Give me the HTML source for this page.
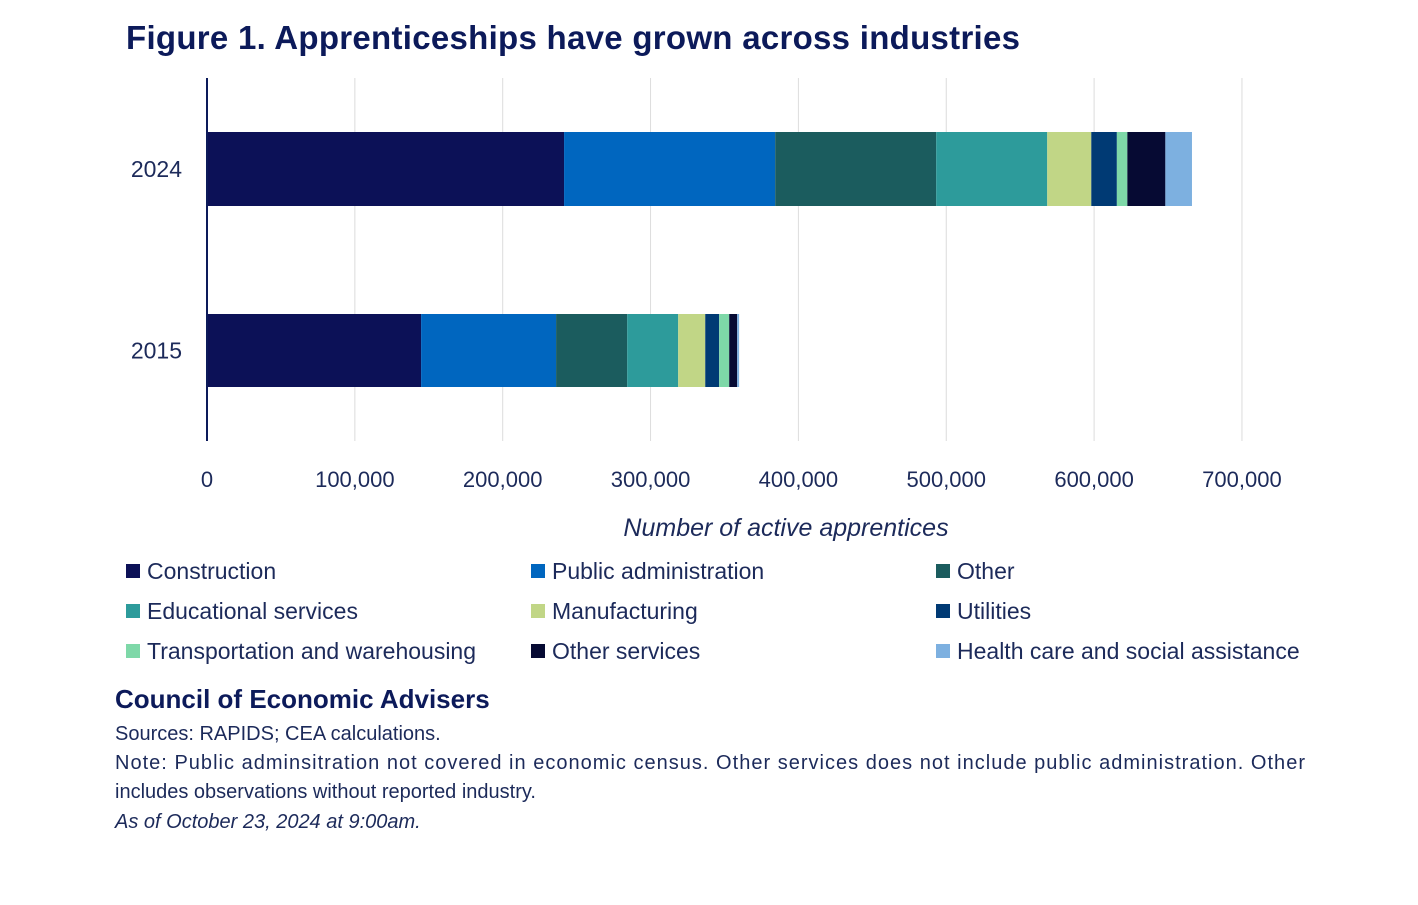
<!DOCTYPE html>
<html><head><meta charset="utf-8">
<style>
body{margin:0;background:#fff;width:1418px;height:900px;overflow:hidden;font-family:"Liberation Sans",sans-serif;}
svg text{font-family:"Liberation Sans",sans-serif;}
</style></head>
<body>
<svg id="chart" width="1418" height="900">
<text x="126" y="49" font-size="33" font-weight="bold" fill="#0c1a5a" textLength="894">Figure 1. Apprenticeships have grown across industries</text>
<g id="grid"></g>
<g id="bars"></g>
<g id="axes"></g>
<text x="786" y="536" font-size="25" font-style="italic" fill="#1c2a5a" text-anchor="middle">Number of active apprentices</text>
<g id="legend"></g>
<text x="115" y="708" font-size="26" font-weight="bold" fill="#0c1a5a">Council of Economic Advisers</text>
<text x="115" y="740" font-size="20" fill="#1c2a5a">Sources: RAPIDS; CEA calculations.</text>
<text x="115" y="769" font-size="20" fill="#1c2a5a" textLength="1190">Note: Public adminsitration not covered in economic census. Other services does not include public administration. Other</text>
<text x="115" y="798" font-size="20" fill="#1c2a5a">includes observations without reported industry.</text>
<text x="115" y="828" font-size="20" font-style="italic" fill="#1c2a5a">As of October 23, 2024 at 9:00am.</text>
</svg>
<script>
const years = ["2024","2015"];
const industries = ["Construction","Public administration","Other","Educational services","Manufacturing","Utilities","Transportation and warehousing","Other services","Health care and social assistance"];
const values2024 = [241500,142800,108900,75100,29800,17300,7100,25700,18000];
const values2015 = [144800,91300,48100,34500,18300,9400,6800,5400,1300];
const xTicks = [0,100000,200000,300000,400000,500000,600000,700000];
const colors = ["#0c1157","#0066bf","#1b5c5e","#2d9b9b","#c1d686","#003a74","#7ed8a8","#060a33","#7db0e0"];
const NS="http://www.w3.org/2000/svg";
const x0=207, pxPer=147.85/100000;
const xs=v=>x0+v*pxPer;
const rowY={"2024":[132,206],"2015":[314,387]};
function mk(t,a,p){const e=document.createElementNS(NS,t);for(const k in a)e.setAttribute(k,a[k]);p.appendChild(e);return e;}
const grid=document.getElementById('grid'),bars=document.getElementById('bars'),axes=document.getElementById('axes'),legend=document.getElementById('legend');
xTicks.forEach(t=>{
  if(t>0){const l=mk('line',{x1:xs(t),x2:xs(t),y1:78,y2:441,stroke:'#dcdcdc','stroke-width':1},grid);
  
  }
  const tx=mk('text',{x:xs(t),y:487,'font-size':22,fill:'#1c2a5a','text-anchor':'middle'},axes);
  tx.textContent=t.toLocaleString('en-US');
  
  
});
const ax=mk('line',{x1:207,x2:207,y1:78,y2:441,stroke:'#0c1a5a','stroke-width':2},axes);


[values2024,values2015].forEach((vals,i)=>{
  const yr=years[i],[y1,y2]=rowY[yr];let acc=0;
  vals.forEach((v,j)=>{
    const r=mk('rect',{x:xs(acc),y:y1,width:v*pxPer,height:y2-y1,fill:colors[j]},bars);
    
    
    acc+=v;
  });
  const lab=mk('text',{x:182,y:(y1+y2)/2+8,'font-size':23,fill:'#1c2a5a','text-anchor':'end'},axes);
  lab.textContent=yr;
  
  
});
const colX=[126,531,936];
industries.forEach((n,i)=>{
  const cx=colX[i%3],cy=571+Math.floor(i/3)*40;
  const g=mk('g',{},legend);
  
  
  mk('rect',{x:cx,y:cy-7,width:14,height:14,fill:colors[i]},g);
  const t=mk('text',{x:cx+21,y:cy+8,'font-size':23,fill:'#1c2a5a'},g);
  t.textContent=n;
});
</script>
</body></html>
